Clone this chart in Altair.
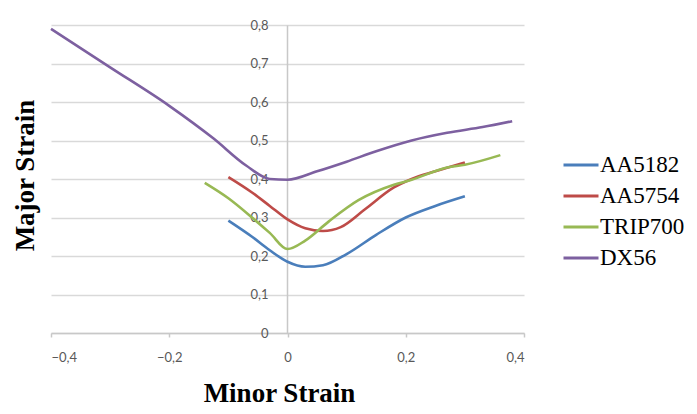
import altair as alt
import pandas as pd

series = ["AA5182", "AA5754", "TRIP700", "DX56"]
colors = ["#4A7EBB", "#BE4B48", "#98B954", "#7D60A0"]

aa5182_x = [-0.10, -0.06, -0.03, 0.00, 0.03, 0.06, 0.10, 0.15, 0.20, 0.25, 0.30]
aa5182_y = [0.292, 0.250, 0.215, 0.185, 0.172, 0.176, 0.205, 0.255, 0.300, 0.330, 0.355]

aa5754_x = [-0.10, -0.06, -0.03, 0.00, 0.03, 0.06, 0.09, 0.13, 0.18, 0.21, 0.25, 0.30]
aa5754_y = [0.405, 0.365, 0.330, 0.295, 0.272, 0.265, 0.275, 0.320, 0.378, 0.400, 0.420, 0.443]

trip700_x = [-0.14, -0.10, -0.06, -0.03, 0.00, 0.03, 0.07, 0.12, 0.18, 0.21, 0.27, 0.30, 0.36]
trip700_y = [0.390, 0.350, 0.300, 0.260, 0.218, 0.240, 0.290, 0.345, 0.385, 0.398, 0.430, 0.437, 0.462]

dx56_x = [-0.40, -0.30, -0.20, -0.125, -0.07, -0.03, 0.00, 0.05, 0.10, 0.15, 0.21, 0.27, 0.33, 0.38]
dx56_y = [0.790, 0.690, 0.590, 0.505, 0.435, 0.400, 0.398, 0.420, 0.445, 0.472, 0.500, 0.520, 0.535, 0.550]

rows = []
for name, xs, ys in [("AA5182", aa5182_x, aa5182_y), ("AA5754", aa5754_x, aa5754_y),
                     ("TRIP700", trip700_x, trip700_y), ("DX56", dx56_x, dx56_y)]:
    for i, (x, y) in enumerate(zip(xs, ys)):
        rows.append({"series": name, "minor": x, "major": y, "order": i})
df = pd.DataFrame(rows)

lab = "datum.value == 0 ? '0' : replace(format(datum.value, '.1f'), '.', ',')"

chart = alt.Chart(df).mark_line(strokeWidth=2.6, interpolate="monotone").encode(
    x=alt.X("minor:Q", scale=alt.Scale(domain=[-0.4, 0.4], nice=False),
            axis=alt.Axis(values=[-0.4, -0.2, 0, 0.2, 0.4], labelExpr=lab, grid=False,
                          domainColor="#C8C8C8", domainWidth=1.5, tickColor="#C8C8C8",
                          tickSize=4, tickWidth=1.5, labelPadding=14,
                          labelFont="Lato", labelFontSize=13, labelColor="#595959",
                          title="Minor Strain", titleFont="Liberation Serif",
                          titleFontSize=27, titleFontWeight="bold", titleColor="#000000",
                          titleX=228, titleY=60, titleAlign="center", titleBaseline="middle")),
    y=alt.Y("major:Q", scale=alt.Scale(domain=[0, 0.8], nice=False),
            axis=alt.Axis(values=[0, 0.1, 0.2, 0.3, 0.4, 0.5, 0.6, 0.7, 0.8], labelExpr=lab,
                          offset=-236, ticks=False, labelPadding=19,
                          domainColor="#C8C8C8", domainWidth=1.5,
                          gridColor="#D9D9D9", gridWidth=1.5,
                          labelFont="Lato", labelFontSize=13, labelColor="#595959",
                          title="Major Strain", titleFont="Liberation Serif",
                          titleFontSize=27, titleFontWeight="bold", titleColor="#000000",
                          titleX=-262, titleY=150, titleAngle=-90, titleAlign="center",
                          titleBaseline="middle")),
    color=alt.Color("series:N", scale=alt.Scale(domain=series, range=colors),
                    legend=alt.Legend(title=None, orient="none", legendX=511, legendY=121,
                                      symbolType="stroke", symbolSize=1225, symbolStrokeWidth=3,
                                      labelFont="Liberation Serif", labelFontSize=23,
                                      labelColor="#000000", labelOffset=0, rowPadding=0,
                                      labelLimit=200)),
    order="order:Q",
).properties(
    width=473, height=308,
    autosize=alt.AutoSizeParams(type="none"),
    padding={"left": 43, "top": 17, "right": 165, "bottom": 73},
).configure_view(stroke=None)

chart.save("out.html", embed_options={"renderer": "svg", "actions": False})
